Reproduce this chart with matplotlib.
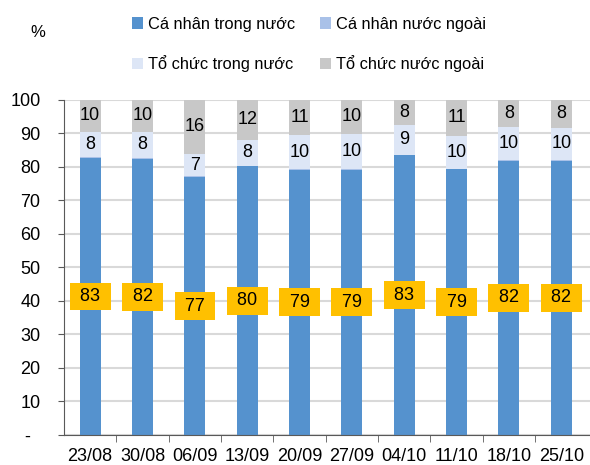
import numpy as np
import matplotlib.pyplot as plt

plt.rcParams['font.family'] = ['Liberation Sans', 'DejaVu Sans']

# tuan giao dich
weeks = ['23/08', '30/08', '06/09', '13/09', '20/09', '27/09', '04/10', '11/10', '18/10', '25/10']

# ty trong gia tri giao dich (%)
ca_nhan_trong_nuoc = [82.6, 82.4, 76.9, 80.1, 79.1, 79.1, 83.4, 79.2, 81.8, 81.8]
ca_nhan_nuoc_ngoai = [0.2, 0.2, 0.2, 0.2, 0.2, 0.2, 0.2, 0.2, 0.2, 0.2]
to_chuc_trong_nuoc = [7.5, 7.7, 6.7, 7.6, 10.1, 10.3, 8.7, 9.8, 9.8, 9.5]
to_chuc_nuoc_ngoai = [9.7, 9.7, 16.2, 12.1, 10.6, 10.4, 7.7, 10.8, 8.2, 8.5]

names = ['Cá nhân trong nước', 'Cá nhân nước ngoài', 'Tổ chức trong nước', 'Tổ chức nước ngoài']
colors = ['#5592CE', '#A9C1E8', '#DDE6F6', '#C8C8C8']

fig = plt.figure(figsize=(5.9, 4.65), dpi=100)
ax = fig.add_axes([0.1085, 0.0645, 0.8915, 0.7215])

x = np.arange(len(weeks))
w = 0.4
series = [ca_nhan_trong_nuoc, ca_nhan_nuoc_ngoai, to_chuc_trong_nuoc, to_chuc_nuoc_ngoai]
bottom = np.zeros(len(weeks))
bars = []
for vals, name, c in zip(series, names, colors):
    b = ax.bar(x, vals, w, bottom=bottom, color=c, label=name, zorder=3)
    bars.append(b)
    bottom = bottom + np.array(vals)

# labels
for i in range(len(weeks)):
    v = ca_nhan_trong_nuoc[i]
    ax.text(x[i], v / 2, ' %d ' % round(v), ha='center', va='center', fontsize=13, zorder=5,
            bbox=dict(boxstyle='square,pad=0.3', fc='#FFC000', ec='none'))
    b0 = ca_nhan_trong_nuoc[i] + ca_nhan_nuoc_ngoai[i]
    v = to_chuc_trong_nuoc[i]
    ax.text(x[i], b0 + v / 2, '%d' % round(v), ha='center', va='center', fontsize=13, zorder=5)
    b1 = b0 + v
    v = to_chuc_nuoc_ngoai[i]
    ax.text(x[i], b1 + v / 2, '%d' % round(v), ha='center', va='center', fontsize=13, zorder=5)

ax.set_ylim(0, 100)
ax.set_xlim(-0.5, len(weeks) - 0.5 + 0.05)
ax.set_yticks(range(0, 101, 10))
ax.set_yticklabels(['-  '] + [str(t) for t in range(10, 101, 10)])
ax.set_xticks(x)
ax.set_xticklabels(weeks)
ax.set_xticks(np.arange(0.5, len(weeks) - 0.5, 1), minor=True)
ax.tick_params(axis='x', which='major', length=0, pad=9, labelsize=13)
ax.tick_params(axis='x', which='minor', length=5, direction='out', color='#595959')
ax.tick_params(axis='y', length=4, direction='out', color='#595959', labelsize=13, pad=13)
ax.grid(axis='y', color='#D9D9D9', linewidth=1.5, zorder=0)
ax.set_axisbelow(True)
for s in ['top', 'right']:
    ax.spines[s].set_visible(False)
for s in ['left', 'bottom']:
    ax.spines[s].set_color('#595959')
    ax.spines[s].set_zorder(4)

# legend: row 1 ca nhan, row 2 to chuc
order = [0, 2, 1, 3]
fig.legend([bars[k] for k in order], [names[k] for k in order], ncol=2,
           loc='upper left', bbox_to_anchor=(0.198, 0.996), frameon=False,
           fontsize=11.8, handlelength=0.7, handleheight=0.7, handletextpad=0.3,
           columnspacing=1.5, labelspacing=1.45)
fig.text(0.052, 0.93, '%', fontsize=12, ha='left', va='center')

plt.savefig('out.png', dpi=100)
